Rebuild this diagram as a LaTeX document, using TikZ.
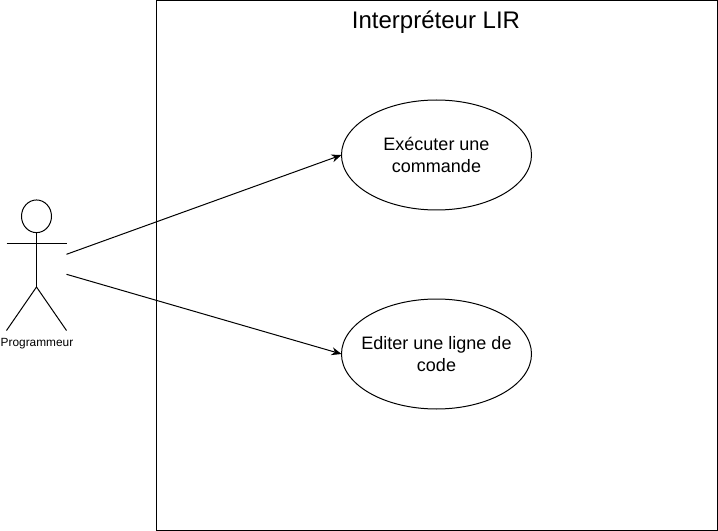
\documentclass[tikz,border=0pt]{standalone}
\usepackage{fontspec}
\setmainfont{Liberation Sans}
\usetikzlibrary{arrows.meta,shapes.geometric}
\tikzset{
 every picture/.style={x=0.75pt,y=-0.75pt},
 ln/.style={draw=black,line width=0.75pt},
 uc/.style={ln,shape=ellipse,minimum width=142.5pt,minimum height=82.5pt,inner xsep=-30pt,inner ysep=0pt,outer sep=0pt,align=center,font=\fontsize{13.5}{16}\selectfont,fill=white},
 arr/.style={ln,-{Stealth[length=7.5pt,width=6pt]}},
}
\begin{document}
\begin{tikzpicture}
\useasboundingbox (0,0) rectangle (718,531);
\node[ln,inner sep=0pt,outer sep=0pt,anchor=north west,minimum width=420.4pt,minimum height=397.3pt] (sys) at (156.5,0.5) {};
\node[font=\fontsize{18}{20}\selectfont] (title) at (436,22) {Interpréteur LIR};
\node[uc] (a) at (436.5,155) {Exécuter une\\commande};
\node[uc] (b) at (436.5,354) {Editer une ligne de\\code};
\node[ln,shape=ellipse,minimum width=22.5pt,minimum height=24.5pt,inner sep=0pt,outer sep=0pt] (head) at (36.5,216.3) {};
\coordinate (hip) at (36.5,287);
\coordinate (la) at (6.5,243.3);
\coordinate (ra) at (66.5,243.3);
\coordinate (lf) at (6.5,330.5);
\coordinate (rf) at (66.5,330.5);
\draw[ln] (head.south) -- (hip);
\draw[ln] (la) -- (ra);
\draw[ln] (lf) -- (hip) -- (rf);
\node[font=\fontsize{8.9}{10}\selectfont] (lab) at (37,344) {Programmeur};
\coordinate (s1) at (66.5,254.3);
\coordinate (s2) at (66.5,274.3);
\draw[arr] (s1) -- (a.west);
\draw[arr] (s2) -- (b.west);
\end{tikzpicture}
\end{document}
